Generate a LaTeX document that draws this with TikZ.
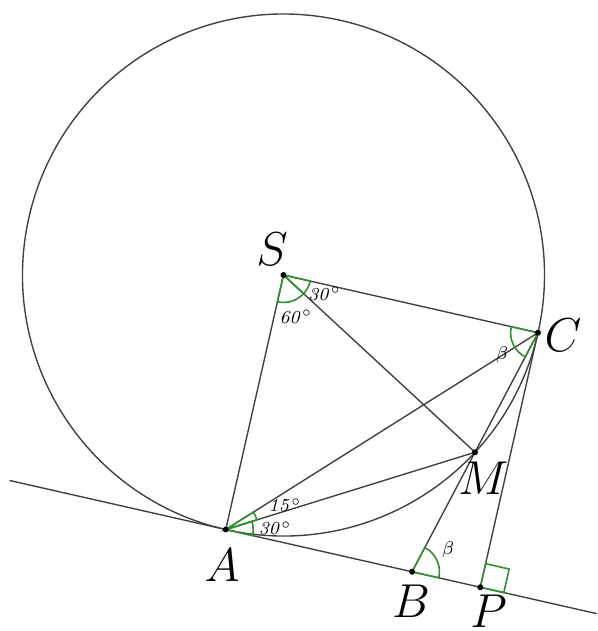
\documentclass[tikz,border=0pt]{standalone}
\usepackage{amsmath}
\usepackage{amssymb}
\usepackage{tikz}
\usetikzlibrary{positioning}
\definecolor{linegray}{HTML}{404040}
\definecolor{anglegreen}{HTML}{2f912f}

\begin{document}
\begin{tikzpicture}[line width=0.6pt,
	biglabel/.style={font=\fontsize{20}{24}\selectfont, inner sep=0pt},
	anglabel/.style={font=\fontsize{8.5}{10}\selectfont, inner sep=0pt},
	angmark/.style={anglegreen, line width=0.7pt}]
	\useasboundingbox (-4.345,-5.456) rectangle (4.805,4.215);
	\begin{scope}[rotate=-12.78]
		\coordinate (S) at (0,0);
		\coordinate (A) at (0,-4);
		\coordinate (C) at (4,0);
		\coordinate (M) at (-30:4);
		\coordinate (B) at (2.928,-4);
		\coordinate (P) at (4,-4);
		\coordinate (tl) at (-3.40,-4);
		\coordinate (tr) at (5.83,-4);
		\draw[linegray] (S) circle (4);
		\draw[linegray] (tl) -- (tr);
		\draw[linegray] (S) -- (A) (S) -- (C) (S) -- (M);
		\draw[linegray] (A) -- (C) (A) -- (M) (C) -- (B) (C) -- (P);
		% angles
		\draw[angmark] (S) -- ++(270:0.42) arc (270:330:0.42) -- cycle;
		\draw[angmark] (S) -- ++(330:0.42) arc (330:360:0.42) -- cycle;
		\draw[angmark] (A) -- ++(0:0.42) arc (0:30:0.42) -- cycle;
		\draw[angmark] (A) -- ++(30:0.5) arc (30:45:0.5) -- cycle;
		\draw[angmark] (C) -- ++(180:0.42) arc (180:255:0.42) -- cycle;
		\draw[angmark] (B) -- ++(0:0.42) arc (0:75:0.42) -- cycle;
		\draw[angmark] (P) -- ++(0.37,0) -- ++(0,0.37) -- ++(-0.37,0) -- cycle;
		\foreach \p in {S,A,C,M,B,P}
			\fill (\p) circle (1.3pt);
	\end{scope}
	\node[biglabel] (lS) at (-0.176,0.398) {$S$};
	\node[biglabel] (lC) at (4.283,-0.920) {$C$};
	\node[biglabel] (lM) at (3.065,-3.119) {$M$};
	\node[biglabel] (lB) at (1.954,-4.996) {$B$};
	\node[biglabel] (lP) at (3.142,-5.15) {$P$};
	\node[biglabel] (lA) at (-0.943,-4.444) {$A$};
	\node[anglabel] (aSC) at (0.63,-0.29) {$\mathit{30}^{\circ}$};
	\node[anglabel] (aSA) at (0.19,-0.64) {$\mathit{60}^{\circ}$};
	\node[anglabel] (aAC) at (0.023,-3.525) {$\mathit{15}^{\circ}$};
	\node[anglabel] (aAM) at (-0.130,-3.877) {$\mathit{30}^{\circ}$};
	\node[anglabel] (bC) at (3.349,-1.226) {$\beta$};
	\node[anglabel] (bB) at (2.521,-4.215) {$\beta$};
\end{tikzpicture}
\end{document}
